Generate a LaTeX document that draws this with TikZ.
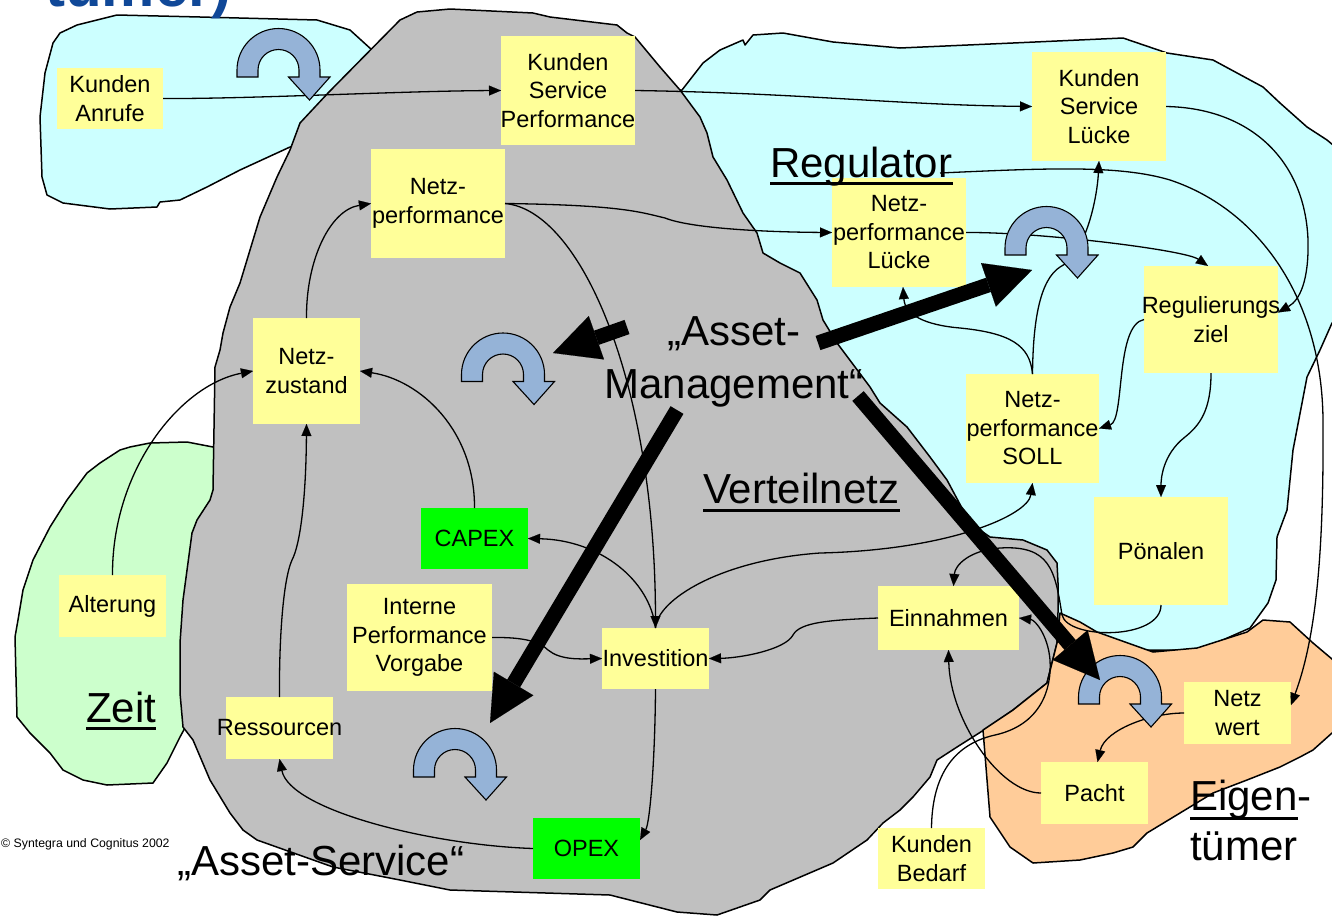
\documentclass[tikz,border=0pt]{standalone}
\usepackage{fontspec}
\setmainfont{Liberation Sans}
\usetikzlibrary{arrows.meta}
\definecolor{cyanreg}{HTML}{CCFFFF}
\definecolor{grayreg}{HTML}{C0C0C0}
\definecolor{greenreg}{HTML}{CCFFCC}
\definecolor{orangereg}{HTML}{FFCC99}
\definecolor{ybox}{HTML}{FFFF99}
\definecolor{gbox}{HTML}{00FF00}
\definecolor{uturnblue}{HTML}{95B3D7}
\definecolor{titleblue}{RGB}{16,72,152}
\tikzset{
 region/.style={draw=black, line width=1.5pt, line join=round},
 box/.style={fill=ybox, inner sep=0pt, outer sep=0pt},
 gbx/.style={fill=gbox, inner sep=0pt, outer sep=0pt},
 lbl/.style={font=\fontsize{23.5}{28.5}\selectfont, align=center, inner sep=0pt},
 big/.style={font=\fontsize{42}{50}\selectfont, inner sep=0pt},
 conn/.style={draw=black, line width=1.3pt, -{Triangle[length=12pt,width=10pt,line width=0.1pt]}},
 fat/.style={draw=black, line width=15pt, -{Triangle[length=46pt,width=46pt,line width=0.1pt]}},
 ul/.style={line width=3pt},
 uturnst/.style={draw=black, line width=1.1pt, fill=uturnblue, line join=miter},
 uturn/.pic={\draw[uturnst] (-41.5,-7) -- (-41.5,0) arc[start angle=180,end angle=0,radius=41.5pt] -- (41.5,-7) -- (51.5,-7) -- (31,-30) -- (10,-7) -- (20.5,-7) -- (20.5,0) arc[start angle=0,end angle=180,radius=20.5pt] -- (-20.5,-7) -- cycle;}
}
\begin{document}
\begin{tikzpicture}[x=1pt,y=1pt]
\useasboundingbox (0,0) rectangle (1332,-919);
% ---------- regions ----------
\fill[white] (0,0) rectangle (1332,-919);
\filldraw[region, fill=cyanreg] (53,-43)--(60,-33)--(77,-25)--(117,-15)--(200,-17)--(317,-20)--(350,-30)--(372,-50)--(400,-75)--(360,-140)--(290,-147)--(277,-153)--(240,-170)--(207,-187)--(180,-200)--(160,-202)--(157,-207)--(110,-209)--(63,-203)--(47,-195)--(42,-177)--(40,-117)--(45,-73)--cycle;
\filldraw[region, fill=greenreg] (213,-447)--(187,-442)--(150,-443)--(130,-447)--(120,-450)--(100,-463)--(87,-473)--(67,-500)--(50,-527)--(33,-560)--(23,-590)--(18,-620)--(15,-637)--(17,-717)--(30,-733)--(50,-753)--(63,-770)--(83,-780)--(107,-785)--(153,-783)--(167,-763)--(180,-737)--(200,-700)--(230,-450)--cycle;
\filldraw[region, fill=cyanreg] (650,-90)--(682,-90)--(703,-63)--(720,-50)--(743,-40)--(745,-45)--(753,-35)--(783,-33)--(833,-42)--(900,-48)--(1013,-43)--(1123,-38)--(1167,-53)--(1213,-60)--(1263,-87)--(1280,-103)--(1307,-127)--(1327,-140)--(1345,-155)--(1345,-320)--(1332,-323)--(1320,-350)--(1307,-377)--(1293,-450)--(1287,-510)--(1277,-537)--(1276,-580)--(1268,-603)--(1250,-628)--(1200,-650)--(1100,-650)--(1040,-640)--(950,-600)--(800,-400)--(700,-200)--cycle;
\filldraw[region, fill=grayreg] (328,-93)--(400,-20)--(417,-12)--(450,-9)--(533,-13)--(550,-17)--(617,-25)--(627,-33)--(635,-37)--(660,-67)--(680,-90)--(700,-117)--(707,-133)--(713,-157)--(727,-180)--(743,-213)--(757,-233)--(763,-253)--(780,-263)--(800,-273)--(817,-300)--(823,-320)--(837,-343)--(870,-387)--(880,-403)--(907,-427)--(930,-457)--(947,-480)--(963,-510)--(980,-530)--(990,-537)--(1023,-540)--(1047,-550)--(1057,-563)--(1058,-583)--(1058,-612)--(1057,-643)--(1047,-683)--(1013,-710)--(987,-728)--(957,-747)--(937,-760)--(930,-777)--(913,-797)--(900,-810)--(883,-823)--(867,-840)--(833,-863)--(770,-890)--(760,-900)--(717,-915)--(677,-912)--(610,-895)--(450,-890)--(400,-880)--(333,-867)--(257,-840)--(243,-830)--(230,-813)--(210,-780)--(193,-740)--(183,-727)--(180,-693)--(180,-643)--(183,-600)--(192,-533)--(197,-520)--(210,-500)--(213,-490)--(215,-367)--(220,-350)--(223,-333)--(230,-307)--(240,-283)--(260,-217)--(277,-177)--(290,-150)--(300,-123)--cycle;
\filldraw[region, fill=orangereg] (1060,-613)--(1080,-622)--(1097,-632)--(1153,-652)--(1197,-648)--(1247,-632)--(1263,-620)--(1290,-622)--(1313,-643)--(1345,-670)--(1345,-733)--(1332,-733)--(1313,-750)--(1300,-757)--(1280,-767)--(1247,-780)--(1213,-793)--(1180,-813)--(1147,-833)--(1133,-847)--(1113,-853)--(1080,-860)--(1033,-863)--(1010,-847)--(990,-817)--(983,-730)--(1013,-710)--(1047,-683)--(1057,-643)--cycle;
% ---------- boxes ----------
\node[box, minimum width=106pt, minimum height=61pt] (ka) at (110,-98.5) {};
\node[box, minimum width=134pt, minimum height=109pt] (ksp) at (568,-90.5) {};
\node[box, minimum width=134pt, minimum height=109pt] (np) at (438,-203.5) {};
\node[box, minimum width=134pt, minimum height=109pt] (ksl) at (1099,-106.5) {};
\node[box, minimum width=134pt, minimum height=109pt] (npl) at (899,-232.5) {};
\node[box, minimum width=134pt, minimum height=107pt] (reg) at (1211,-319.5) {};
\node[box, minimum width=107pt, minimum height=106pt] (nz) at (306.5,-371) {};
\node[box, minimum width=133pt, minimum height=109pt] (soll) at (1032.5,-428.5) {};
\node[gbx, minimum width=107pt, minimum height=61pt] (capex) at (474.5,-538.5) {};
\node[box, minimum width=134pt, minimum height=108pt] (poen) at (1161,-551) {};
\node[box, minimum width=107pt, minimum height=62pt] (alt) at (112.5,-606) {};
\node[box, minimum width=145pt, minimum height=107pt] (ipv) at (419.5,-637.5) {};
\node[box, minimum width=107pt, minimum height=61pt] (inv) at (655.5,-658.5) {};
\node[box, minimum width=141pt, minimum height=64pt] (einn) at (948.5,-618) {};
\node[box, minimum width=107pt, minimum height=62pt] (res) at (279.5,-728) {};
\node[gbx, minimum width=107pt, minimum height=61pt] (opex) at (586.5,-848.5) {};
\node[box, minimum width=107pt, minimum height=62pt] (nw) at (1237.5,-713) {};
\node[box, minimum width=107pt, minimum height=62pt] (pacht) at (1094.5,-793) {};
\node[box, minimum width=107pt, minimum height=61pt] (kb) at (931.5,-858.5) {};
\coordinate (rs) at (940,-173);
% ---------- connectors ----------
\draw[conn] (ka.east) .. controls (250,-99) and (400,-91) .. (ksp.west);
\draw[conn] (ksp.east) .. controls (800,-93) and (900,-105) .. (ksl.west);
\draw[conn] (np.east) .. controls (620,-205) and (640,-212) .. (665,-218) .. controls (690,-228) and (760,-232) .. (npl.west);
\draw[conn] (np.east) .. controls (580,-210) and (655,-380) .. (inv.north);
\draw[conn] (nz.north) .. controls (306,-260) and (330,-210) .. (np.west);
\draw[conn] (alt.north) .. controls (112,-470) and (180,-385) .. (nz.west);
\draw[conn] (capex.north) .. controls (475,-430) and (420,-380) .. (nz.east);
\draw[conn] (inv.north) .. controls (650,-580) and (600,-540) .. (capex.east);
\draw[conn] (inv.north) .. controls (657,-600) and (720,-560) .. (820,-553) .. controls (950,-550) and (1028,-515) .. (soll.south);
\draw[conn] (ipv.east) .. controls (525,-637) and (540,-642) .. (548,-650) .. controls (560,-660) and (580,-659) .. (inv.west);
\draw[conn] (einn.west) .. controls (830,-620) and (800,-622) .. (793,-635) .. controls (785,-650) and (740,-658) .. (inv.east);
\draw[conn] (inv.south) .. controls (655,-760) and (650,-822) .. (opex.9);
\draw[conn] (opex.west) .. controls (430,-845) and (290,-810) .. (res.south);
\draw[conn] (res.north) .. controls (279,-640) and (283,-580) .. (292,-560) .. controls (300,-545) and (306,-500) .. (nz.south);
\draw[conn] (soll.north) .. controls (1030,-345) and (1010,-333) .. (960,-328) .. controls (925,-325) and (905,-315) .. ([xshift=4pt]npl.south);
\draw[conn] (soll.north) .. controls (1033,-320) and (1040,-280) .. (1060,-267) .. controls (1085,-255) and (1097,-200) .. (ksl.south);
\draw[conn] (npl.east) .. controls (1040,-232) and (1185,-250) .. ([xshift=-3pt]reg.north);
\draw[conn] (rs) .. controls (1050,-168) and (1120,-165) .. (1170,-180) .. controls (1260,-210) and (1322,-300) .. (1323,-420) .. controls (1324,-560) and (1315,-640) .. ([yshift=8pt]nw.east);
\draw[conn] (ksl.east) .. controls (1250,-108) and (1305,-160) .. (1308,-240) .. controls (1309,-280) and (1300,-300) .. (reg.6);
\draw[conn] (reg.west) .. controls (1115,-325) and (1125,-420) .. (soll.east);
\draw[conn] (reg.south) .. controls (1211,-410) and (1200,-425) .. (1185,-437) .. controls (1162,-455) and (1161,-480) .. (poen.north);
\draw[conn] (poen.south) .. controls (1161,-640) and (1068,-640) .. (1062,-615) .. controls (1055,-570) and (1050,-545) .. (1000,-548) .. controls (970,-550) and (955,-565) .. ([xshift=5pt]einn.north);
\draw[conn] (kb.north) .. controls (932,-780) and (950,-745) .. (995,-735) .. controls (1040,-725) and (1052,-690) .. (1050,-660) .. controls (1048,-635) and (1035,-620) .. (einn.east);
\draw[conn] (pacht.west) .. controls (1000,-793) and (950,-720) .. (einn.south);
\draw[conn] (nw.west) .. controls (1150,-713) and (1105,-730) .. ([xshift=3pt]pacht.north);
% ---------- box texts ----------
\node[lbl] (ka-t) at (ka) {Kunden\\Anrufe};
\node[lbl] (ksp-t) at (ksp) {Kunden\\Service\\Performance};
\node[lbl] (np-t) at (np) {Netz-\\performance};
\node[lbl] (ksl-t) at (ksl) {Kunden\\Service\\Lücke};
\node[lbl] (npl-t) at (npl) {Netz-\\performance\\Lücke};
\node[lbl] (reg-t) at (reg) {Regulierungs\\ziel};
\node[lbl] (nz-t) at (nz) {Netz-\\zustand};
\node[lbl] (soll-t) at (soll) {Netz-\\performance\\SOLL};
\node[lbl] (capex-t) at (capex) {CAPEX};
\node[lbl] (poen-t) at (poen) {Pönalen};
\node[lbl] (alt-t) at (alt) {Alterung};
\node[lbl] (ipv-t) at (ipv) {Interne\\Performance\\Vorgabe};
\node[lbl] (inv-t) at (inv) {Investition};
\node[lbl] (einn-t) at (einn) {Einnahmen};
\node[lbl] (res-t) at (res) {Ressourcen};
\node[lbl] (opex-t) at (opex) {OPEX};
\node[lbl] (nw-t) at (nw) {Netz\\wert};
\node[lbl] (pacht-t) at (pacht) {Pacht};
\node[lbl] (kb-t) at (kb) {Kunden\\Bedarf};
% ---------- u-turn arrows ----------
\pic (ua) at (278.5,-70) {uturn};
\pic (ub) at (503,-374.5) {uturn};
\pic (uc) at (455,-770) {uturn};
\pic (ud) at (1046.5,-248) {uturn};
\pic (ue) at (1120,-697) {uturn};
% ---------- fat arrows ----------
\coordinate (f1s) at (627,-327); \coordinate (f1e) at (553,-353);
\coordinate (f2s) at (818,-343); \coordinate (f2e) at (1032,-270);
\coordinate (f3s) at (677,-410); \coordinate (f3e) at (490,-723);
\coordinate (f4s) at (858,-396); \coordinate (f4e) at (1100,-680);
\draw[fat] (f1s) -- (f1e);
\draw[fat] (f2s) -- (f2e);
\draw[fat] (f3s) -- (f3e);
\draw[fat] (f4s) -- (f4e);
% ---------- big labels ----------
\node[big, anchor=base west] (regulator) at (770,-177) {Regulator};
\draw[ul] ([yshift=-6pt]regulator.base west) -- ([yshift=-6pt]regulator.base east);
\node[big, anchor=base west] (verteil) at (703,-503) {Verteilnetz};
\draw[ul] ([yshift=-7pt]verteil.base west) -- ([yshift=-7pt]verteil.base east);
\node[big, anchor=base west] (zeit) at (86,-722) {Zeit};
\draw[ul] ([yshift=-6pt]zeit.base west) -- ([yshift=-6pt]zeit.base east);
\node[big, anchor=base west] (eig) at (1190,-810) {Eigen\rlap{-}};
\draw[ul] ([yshift=-8pt]eig.base west) -- ([yshift=-8pt]eig.base east);
\node[big, anchor=base west] (tuemer) at (1190,-860) {tümer};
\node[big, anchor=base west] (aserv) at (177,-875) {„Asset-Service“};
\node[big, anchor=base] (am1) at (734,-345) {„Asset-};
\node[big, anchor=base] (am2) at (734,-398) {Management“};
\node[anchor=base west, inner sep=0pt, font=\fontsize{12.3}{15}\selectfont] (copy) at (1,-847) {© Syntegra und Cognitus 2002};
\begin{scope}
\clip (0,0) rectangle (1332,-919);
\node[anchor=base east, inner sep=0pt, text=titleblue, font=\fontsize{60}{60}\selectfont\bfseries] (title) at (232,-6) {tümer)};
\end{scope}
\end{tikzpicture}
\end{document}
